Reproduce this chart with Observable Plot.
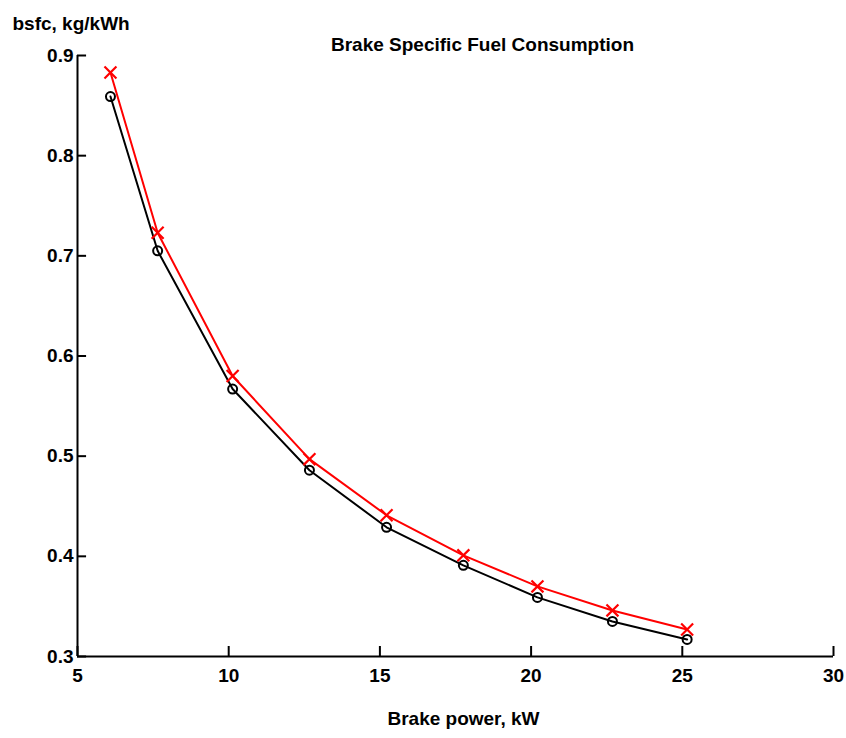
<!DOCTYPE html>
<html>
<head>
<meta charset="utf-8">
<script src="https://cdn.jsdelivr.net/npm/d3@7"></script>
<script src="https://cdn.jsdelivr.net/npm/@observablehq/plot@0.6"></script>
<style>
  body { margin: 0; background: #fff; }
  svg { display: block; }
</style>
</head>
<body>
<div id="chart"></div>
<script>
const titleText = "Brake Specific Fuel Consumption";
const xLabel = "Brake power, kW";
const yLabel = "bsfc, kg/kWh";

const power = [6.09, 7.65, 10.13, 12.67, 15.22, 17.76, 20.21, 22.69, 25.16];
const bsfcBlack = [0.859, 0.705, 0.567, 0.486, 0.429, 0.391, 0.359, 0.335, 0.317];
const bsfcRed = [0.883, 0.723, 0.580, 0.497, 0.441, 0.401, 0.370, 0.346, 0.327];

const xTicks = [5, 10, 15, 20, 25, 30];
const yTicks = [0.3, 0.4, 0.5, 0.6, 0.7, 0.8, 0.9];

const black = power.map((x, i) => ({x, y: bsfcBlack[i]}));
const red = power.map((x, i) => ({x, y: bsfcRed[i]}));

const chart = Plot.plot({
  width: 846,
  height: 738,
  marginLeft: 77,
  marginRight: 13,
  marginTop: 55,
  marginBottom: 82,
  style: {fontFamily: "'Liberation Sans', Arial, sans-serif", fontWeight: "bold", fontSize: "19px", color: "#000", background: "#fff"},
  x: {domain: [5, 30]},
  y: {domain: [0.3, 0.9]},
  marks: [
    Plot.axisX(xTicks, {tickSize: 0, tickPadding: 12, fontSize: 19, fontWeight: "bold", label: null}),
    Plot.axisY(yTicks, {tickSize: 0, tickPadding: 4, fontSize: 19, fontWeight: "bold", label: null, tickFormat: d3.format(".1f")}),
    Plot.ruleX([5], {y1: 0.3, y2: 0.9, stroke: "#000", strokeWidth: 2}),
    Plot.ruleY([0.3], {x1: 5, x2: 30, stroke: "#000", strokeWidth: 2}),
    Plot.ruleY(yTicks, {x1: 5, x2: 5.3, stroke: "#000", strokeWidth: 2}),
    Plot.ruleX(xTicks, {y1: 0.3, y2: 0.31, stroke: "#000", strokeWidth: 2}),
    Plot.line(red, {x: "x", y: "y", stroke: "#ff0000", strokeWidth: 2}),
    Plot.line(black, {x: "x", y: "y", stroke: "#000", strokeWidth: 2}),
    Plot.dot(red, {x: "x", y: "y", symbol: "times", r: 5.5, stroke: "#ff0000", strokeWidth: 2.2}),
    Plot.dot(black, {x: "x", y: "y", symbol: "circle", r: 4.5, stroke: "#000", strokeWidth: 2, fill: "none"}),
    Plot.text([titleText], {frameAnchor: "top", dx: 27, dy: -18, fontSize: 19, fontWeight: "bold"}),
    Plot.text([yLabel], {frameAnchor: "top-left", textAnchor: "start", dx: -65, dy: -39, fontSize: 19, fontWeight: "bold"}),
    Plot.text([xLabel], {frameAnchor: "bottom", dx: 8, dy: 68, fontSize: 19, fontWeight: "bold"})
  ]
});
document.getElementById("chart").appendChild(chart);
</script>
</body>
</html>
